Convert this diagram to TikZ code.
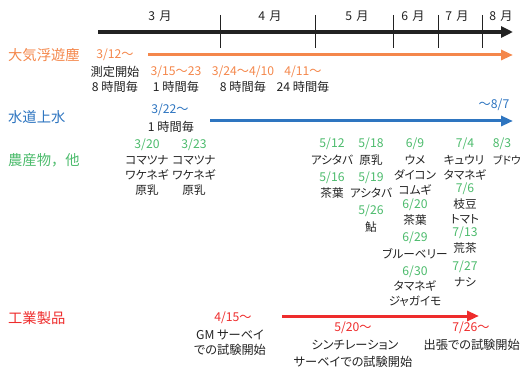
\documentclass[tikz,border=0pt]{standalone}
\usepackage{fontspec}
\setmainfont{Noto Sans CJK JP}[RawFeature=+palt]
\newfontfamily\lblfont{Noto Sans CJK JP}
\usetikzlibrary{arrows.meta}
\definecolor{cOr}{HTML}{F4874B}
\definecolor{cBl}{HTML}{2E75C0}
\definecolor{cGr}{HTML}{4CBB6C}
\definecolor{cRd}{HTML}{EE2C2C}
\definecolor{cTx}{HTML}{222222}
\tikzset{
  txt/.style={inner sep=0pt, text=cTx, font=\fontsize{12.2}{14}\selectfont},
  ag/.style={inner sep=0pt, text=cTx, font=\fontsize{11.6}{14}\selectfont},
  lbl/.style={inner sep=0pt, anchor=west, font=\lblfont\fontsize{14.3}{16}\selectfont},
  dt/.style={inner sep=0pt, font=\fontsize{12.2}{14}\selectfont},
  gdt/.style={dt, text=cGr},
  odt/.style={dt, text=cOr},
  bdt/.style={dt, text=cBl},
  rdt/.style={dt, text=cRd},
  axisline/.style={line width=4pt, cTx, -{Triangle[length=12pt,width=11pt]}},
  tick/.style={line width=0.9pt, cTx},
  tl/.style={line width=3pt, -{Triangle[length=12pt,width=10pt]}},
}
\begin{document}
\begin{tikzpicture}[x=1pt,y=-1pt]
\useasboundingbox (0,0) rectangle (521,371);
\clip (0,0) rectangle (521,371);
% axis
\coordinate (a0) at (98,32); \coordinate (a1) at (513,32);
\draw[axisline] (a0) -- (a1);
\foreach \i/\x in {1/220,2/315,3/393,4/438,5/482}{
  \coordinate (t\i a) at (\x,15); \coordinate (t\i b) at (\x,48);
  \draw[tick] (t\i a) -- (t\i b);
}
\node[txt] (m3) at (160,16) {3\,\,月};
\node[txt] (m4) at (270,16) {4\,\,月};
\node[txt] (m5) at (357,16) {5\,\,月};
\node[txt] (m6) at (413,16) {6\,\,月};
\node[txt] (m7) at (457,16) {7\,\,月};
\node[txt] (m8) at (501,16) {8\,\,月};
% atmosphere
\node[lbl, text=cOr] (l1) at (8,55) {大気浮遊塵};
\node[odt] (o1) at (115,55) {3/12〜};
\coordinate (o0) at (148,55); \coordinate (oe) at (513,55);
\draw[tl, cOr] (o0) -- (oe);
\node[txt] (o1a) at (115,72) {測定開始};
\node[txt] (o1b) at (115,87) {8 時間毎};
\node[odt] (o2) at (176,72) {3/15〜23};
\node[txt] (o2b) at (176,87) {1 時間毎};
\node[odt] (o3) at (243,72) {3/24〜4/10};
\node[txt] (o3b) at (243,87) {8 時間毎};
\node[odt] (o4) at (303,72) {4/11〜};
\node[txt] (o4b) at (303,87) {24 時間毎};
% water
\node[lbl, text=cBl] (l2) at (8,117) {水道上水};
\node[bdt] (b1) at (170,110) {3/22〜};
\node[txt] (b1b) at (171,127) {1 時間毎};
\coordinate (b0) at (210,121); \coordinate (be) at (513,121);
\draw[tl, cBl] (b0) -- (be);
\node[bdt] (b2) at (494,105) {〜8/7};
% agriculture
\node[lbl, text=cGr] (l3) at (8,160) {農産物，他};
\node[gdt] (g1) at (147,145) {3/20};
\node[ag] (g1a) at (147,160) {コマツナ};
\node[ag] (g1b) at (147,175) {ワケネギ};
\node[ag] (g1c) at (147,190) {原乳};
\node[gdt] (g2) at (194,145) {3/23};
\node[ag] (g2a) at (194,160) {コマツナ};
\node[ag] (g2b) at (194,175) {ワケネギ};
\node[ag] (g2c) at (194,190) {原乳};
\node[gdt] (g3) at (332,144) {5/12};
\node[ag] (g3a) at (332,160) {アシタバ};
\node[gdt] (g4) at (332,178) {5/16};
\node[ag] (g4a) at (332,193) {茶葉};
\node[gdt] (g5) at (371,144) {5/18};
\node[ag] (g5a) at (371,160) {原乳};
\node[gdt] (g6) at (371,178) {5/19};
\node[ag] (g6a) at (371,193) {アシタバ};
\node[gdt] (g7) at (371,211) {5/26};
\node[ag] (g7a) at (371,227) {鮎};
\node[gdt] (g8) at (415,144) {6/9};
\node[ag] (g8a) at (415,160) {ウメ};
\node[ag] (g8b) at (415,175) {ダイコン};
\node[ag] (g8c) at (415,190) {コムギ};
\node[gdt] (g9) at (415,205) {6/20};
\node[ag] (g9a) at (415,220) {茶葉};
\node[gdt] (g10) at (415,238) {6/29};
\node[ag] (g10a) at (415,254) {ブルーベリー};
\node[gdt] (g11) at (415,272) {6/30};
\node[ag] (g11a) at (415,286) {タマネギ};
\node[ag] (g11b) at (415,301) {ジャガイモ};
\node[gdt] (g12) at (465,144) {7/4};
\node[ag] (g12a) at (464,160) {キュウリ};
\node[ag] (g12b) at (465,175) {タマネギ};
\node[gdt] (g13) at (465,189) {7/6};
\node[ag] (g13a) at (465,204) {枝豆};
\node[ag] (g13b) at (465,219) {トマト};
\node[gdt] (g14) at (465,233) {7/13};
\node[ag] (g14a) at (465,248) {荒茶};
\node[gdt] (g15) at (465,267) {7/27};
\node[ag] (g15a) at (465,282) {ナシ};
\node[gdt] (g16) at (502,144) {8/3};
\node[ag, font=\fontsize{10.8}{13}\selectfont, anchor=east] (g16a) at (521,160) {ブドウ};
% industry
\node[lbl, text=cRd] (l4) at (8,318) {工業製品};
\node[rdt] (r1) at (233,318) {4/15〜};
\node[txt] (r1a) at (230,335) {GM サーベイ};
\node[txt] (r1b) at (230,350) {での試験開始};
\coordinate (r0) at (282,316); \coordinate (re) at (479,316);
\draw[tl, cRd] (r0) -- (re);
\node[rdt] (r2) at (353,328) {5/20〜};
\node[txt] (r2a) at (355,345) {シンチレーション};
\node[txt] (r2b) at (353,362) {サーベイでの試験開始};
\node[rdt] (r3) at (471,328) {7/26〜};
\node[txt, anchor=east] (r3a) at (520,345) {出張での試験開始};
\end{tikzpicture}
\end{document}
